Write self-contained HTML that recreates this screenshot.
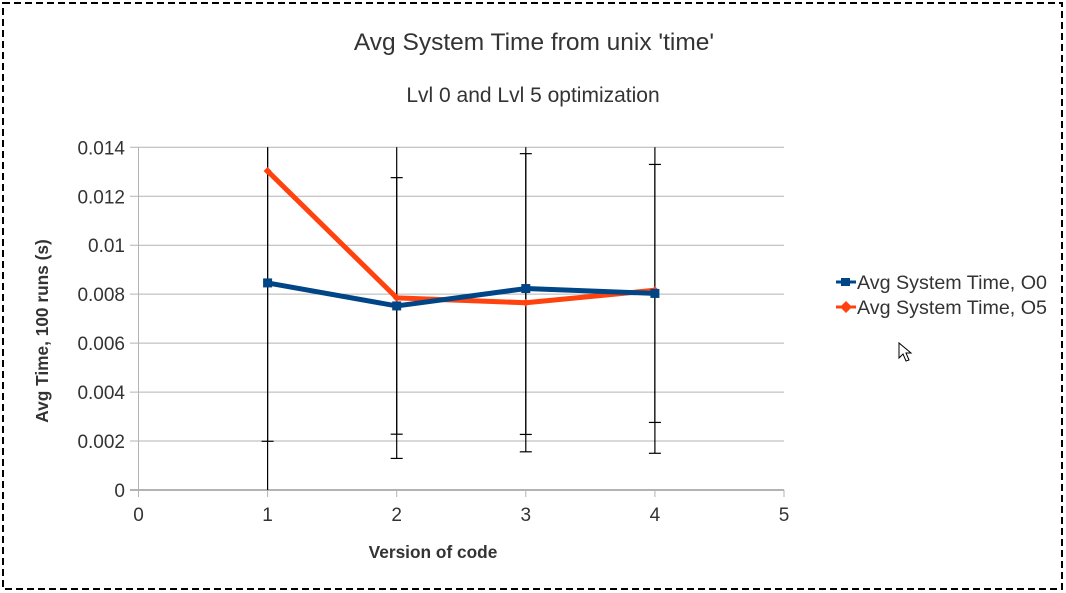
<!DOCTYPE html>
<html><head><meta charset="utf-8"><style>
html,body{margin:0;padding:0;background:#fff;}
svg{display:block;font-family:"Liberation Sans",sans-serif;}
</style></head><body>
<svg id="chart" width="1066" height="593" viewBox="0 0 1066 593">
<rect x="3" y="3" width="1059" height="586" fill="#fff" stroke="#000" stroke-width="2" stroke-dasharray="7,4"/>
<text x="534" y="50" text-anchor="middle" font-size="24.5" fill="#333">Avg System Time from unix 'time'</text>
<text x="533" y="102" text-anchor="middle" font-size="21" fill="#333">Lvl 0 and Lvl 5 optimization</text>
<text transform="translate(48,331) rotate(-90)" text-anchor="middle" font-size="17.3" font-weight="bold" fill="#333">Avg Time, 100 runs (s)</text>
<text x="433" y="558" text-anchor="middle" font-size="17.3" font-weight="bold" fill="#333">Version of code</text>
<g id="grid"></g><g id="axes"></g><g id="errs"></g><g id="series"></g>
<g>
<line x1="836" y1="282" x2="856" y2="282" stroke="#004586" stroke-width="3"/>
<rect x="841" y="278" width="9" height="8" fill="#004586"/>
<text x="857" y="289" font-size="19.7" fill="#333">Avg System Time, O0</text>
<line x1="836" y1="307" x2="856" y2="307" stroke="#ff420e" stroke-width="3"/>
<polygon points="846,301 852,307 846,313 840,307" fill="#ff420e"/>
<text x="857" y="314" font-size="19.7" fill="#333">Avg System Time, O5</text>
</g>
<polygon points="899,343 899,358 903,354 906,361 909,360 906,353 911,353" fill="#fff" stroke="#000" stroke-width="1"/>
</svg>
<script>
const categories=[1,2,3,4];
const o0Values=[0.00846,0.00752,0.00823,0.00803];
const o5Values=[0.01303,0.00785,0.00765,0.00816];
const o0Err=[0.00647,0.00524,0.00596,0.00527];
const o5Err=[0.0140,0.00656,0.00609,0.00666];
const yTicks=[0,0.002,0.004,0.006,0.008,0.01,0.012,0.014];
const yTickLabels=["0","0.002","0.004","0.006","0.008","0.01","0.012","0.014"];
const xTicks=[0,1,2,3,4,5];
const L=138.5,R=784,T=147.3,B=490,YMAX=0.014,XMAX=5;
const xs=v=>L+(R-L)*v/XMAX, ys=v=>B-(B-T)*v/YMAX;
const NS="http://www.w3.org/2000/svg";
function mk(tag,attrs,parent,text){const e=document.createElementNS(NS,tag);for(const k in attrs)e.setAttribute(k,attrs[k]);if(text!==undefined)e.textContent=text;document.getElementById(parent).appendChild(e);return e;}
yTicks.forEach((t,i)=>{
 const y=ys(t);
 const g=mk('line',{x1:130,x2:R,y1:y,y2:y,stroke:'#b3b3b3','stroke-width':i===0?2:1},'grid');
 
 
 const l=mk('text',{x:125,y:y+7,'text-anchor':'end','font-size':19,fill:'#333'},'axes',yTickLabels[i]);
 
 
});
const ax=mk('line',{x1:L,x2:L,y1:T,y2:B+7,stroke:'#b3b3b3','stroke-width':1},'axes');


xTicks.forEach(t=>{
 const x=xs(t);
 const tk=mk('line',{x1:x,x2:x,y1:B,y2:B+7,stroke:'#b3b3b3'},'axes');
 
 
 const l=mk('text',{x:x,y:B+31,'text-anchor':'middle','font-size':19,fill:'#333'},'axes',String(t));
 
 
});
function errs(vals,err,name){
 categories.forEach((c,i)=>{
  const x=xs(c);const hi=vals[i]+err[i],lo=vals[i]-err[i];
  const yh=hi>YMAX?T:ys(hi),yl=lo<0?B:ys(lo);
  const ln=mk('line',{x1:x,x2:x,y1:yh,y2:yl,stroke:'#000','stroke-width':1.2},'errs');
  
  
  if(hi<=YMAX)mk('line',{x1:x-6,x2:x+6,y1:yh,y2:yh,stroke:'#000','stroke-width':1.2},'errs');
  if(lo>=0)mk('line',{x1:x-6,x2:x+6,y1:yl,y2:yl,stroke:'#000','stroke-width':1.2},'errs');
 });
}
errs(o0Values,o0Err,'o0');errs(o5Values,o5Err,'o5');
function series(vals,color,name,shape){
 const pts=categories.map((c,i)=>xs(c)+','+ys(vals[i])).join(' ');
 const pl=mk('polyline',{points:pts,fill:'none',stroke:color,'stroke-width':5,'stroke-linejoin':'round'},'series');
 
 
 categories.forEach((c,i)=>{
  const x=xs(c),y=ys(vals[i]);
  const m=shape==='sq'?mk('rect',{x:x-4.5,y:y-4.5,width:9,height:9,fill:color},'series'):mk('polygon',{points:`${x},${y-4} ${x+4},${y} ${x},${y+4} ${x-4},${y}`,fill:color},'series');
  
  
 });
}
series(o5Values,'#ff420e','o5','dia');
series(o0Values,'#004586','o0','sq');
</script>
</body></html>
